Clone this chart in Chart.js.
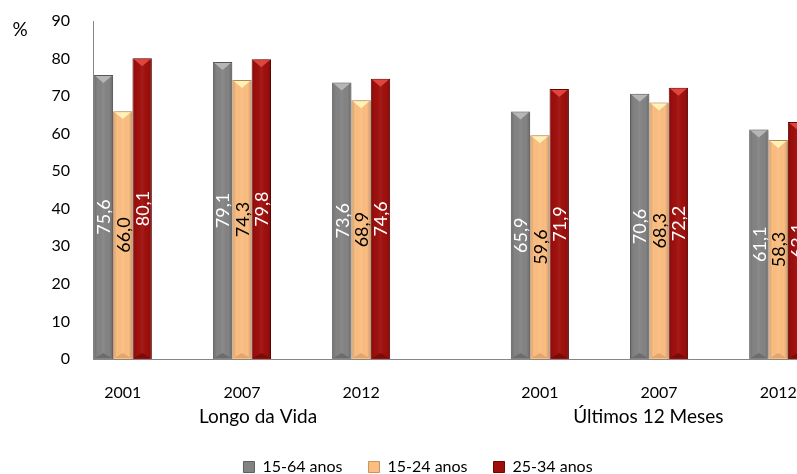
<!DOCTYPE html>
<html>
<head>
<meta charset="utf-8">
<script src="https://cdn.jsdelivr.net/npm/chart.js@4"></script>
<style>
  html, body { margin: 0; padding: 0; overflow: hidden; background: #fff; }
</style>
</head>
<body>
<canvas id="myChart" width="840" height="490"></canvas>
<script>
var anos = ['2001', '2007', '2012'];
var grupos = ['Longo da Vida', 'Últimos 12 Meses'];
var faixas = ['15-64 anos', '15-24 anos', '25-34 anos'];
// Longo da Vida (2001, 2007, 2012), depois Últimos 12 Meses (2001, 2007, 2012)
var v1564 = [75.6, 79.1, 73.6, 65.9, 70.6, 61.1];
var v1524 = [66.0, 74.3, 68.9, 59.6, 68.3, 58.3];
var v2534 = [80.1, 79.8, 74.6, 71.9, 72.2, 63.1];
var yTicks = [0, 10, 20, 30, 40, 50, 60, 70, 80, 90];

// cada ano ocupa uma posição do eixo; posições vazias separam os grupos
var slots = [0, 2, 4, 7, 9, 11];
var nSlots = 12;
var posGrupo = [2.27, 8.82];

var cores = [
  { fill: '#838383', borda: '#5f5f5f', topo: '#b6b6b6', fundo: '#6c6c6c', texto: '#ffffff' },
  { fill: '#fbbd80', borda: '#c9935f', topo: '#fff2b6', fundo: '#e2a56b', texto: '#000000' },
  { fill: '#9e0f0c', borda: '#6a0806', topo: '#e0463e', fundo: '#7c0b08', texto: '#ffffff' }
];

var labels = [];
for (var i = 0; i < nSlots; i++) labels.push('');
slots.forEach(function (s, i) { labels[s] = anos[i % anos.length]; });

function espalha(valores) {
  var d = [];
  for (var i = 0; i < nSlots; i++) d.push(null);
  slots.forEach(function (s, i) { d[s] = valores[i]; });
  return d;
}

function rotulo(v) {
  return v.toFixed(1).replace('.', ',');
}

// sombra, bisel no topo/base e rótulos verticais dentro das barras
var barras3d = {
  id: 'barras3d',
  beforeDatasetsDraw: function (chart) {
    var ctx = chart.ctx;
    ctx.save();
    ctx.shadowColor = 'rgba(0,0,0,0.22)';
    ctx.shadowBlur = 4;
    ctx.shadowOffsetX = 2;
  },
  afterDatasetsDraw: function (chart) {
    var ctx = chart.ctx;
    ctx.restore();
    chart.data.datasets.forEach(function (ds, di) {
      var c = cores[di];
      chart.getDatasetMeta(di).data.forEach(function (el, i) {
        if (ds.data[i] == null) return;
        var p = el.getProps(['x', 'y', 'base', 'width'], true);
        var l = p.x - p.width / 2, r = p.x + p.width / 2;

        var g = ctx.createLinearGradient(l, 0, r, 0);
        g.addColorStop(0, 'rgba(0,0,0,0.18)');
        g.addColorStop(0.2, 'rgba(0,0,0,0)');
        g.addColorStop(0.5, 'rgba(255,255,255,0.06)');
        g.addColorStop(0.8, 'rgba(0,0,0,0)');
        g.addColorStop(1, 'rgba(0,0,0,0.2)');
        ctx.fillStyle = g;
        ctx.fillRect(l + 1, p.y + 1, p.width - 2, p.base - p.y - 2);

        var h = Math.min(7, p.width * 0.36);
        ctx.beginPath();
        ctx.moveTo(l + 1.5, p.y + 1);
        ctx.lineTo(r - 1.5, p.y + 1);
        ctx.lineTo(p.x, p.y + 1 + h);
        ctx.closePath();
        ctx.fillStyle = c.topo;
        ctx.fill();

        ctx.beginPath();
        ctx.moveTo(l + 1.5, p.base - 1);
        ctx.lineTo(r - 1.5, p.base - 1);
        ctx.lineTo(p.x, p.base - 1 - h * 0.7);
        ctx.closePath();
        ctx.fillStyle = c.fundo;
        ctx.fill();

        ctx.save();
        ctx.translate(p.x, (p.y + p.base) / 2);
        ctx.rotate(-Math.PI / 2);
        ctx.font = '18px Lato';
        ctx.fillStyle = c.texto;
        ctx.textAlign = 'center';
        ctx.textBaseline = 'middle';
        ctx.fillText(rotulo(ds.data[i]), 0, 1);
        ctx.restore();
      });
    });
  },
  afterDraw: function (chart) {
    var ctx = chart.ctx;
    var xs = chart.scales.x;
    ctx.save();
    ctx.fillStyle = '#000';
    ctx.textAlign = 'center';
    ctx.textBaseline = 'middle';
    ctx.font = '19px Lato';
    grupos.forEach(function (g, i) {
      ctx.fillText(g, xs.getPixelForValue(posGrupo[i]), xs.top + 58);
    });
    ctx.fillText('%', 20, chart.chartArea.top + 9);
    ctx.restore();
  }
};

var ctx = document.getElementById('myChart').getContext('2d');
Chart.defaults.font.family = 'Lato, sans-serif';
Chart.defaults.color = '#000';

var chart = new Chart(ctx, {
  type: 'bar',
  data: {
    labels: labels,
    datasets: faixas.map(function (nome, k) {
      return {
        label: nome,
        data: espalha([v1564, v1524, v2534][k]),
        backgroundColor: cores[k].fill,
        borderColor: cores[k].borda,
        borderWidth: 1,
        categoryPercentage: 0.975,
        barPercentage: 1
      };
    })
  },
  options: {
    responsive: false,
    animation: false,
    layout: { padding: { left: 28, right: 32, top: 21, bottom: 5 } },
    scales: {
      x: {
        grid: { display: false, drawTicks: false },
        border: { display: true, color: '#868686', width: 1 },
        ticks: { autoSkip: false, maxRotation: 0, padding: 24, font: { size: 16 } },
        afterFit: function (s) { s.height = 74; }
      },
      y: {
        min: 0,
        max: 90,
        grid: { display: false, drawTicks: false },
        border: { display: true, color: '#868686', width: 1 },
        ticks: { padding: 23, font: { size: 16 } },
        afterBuildTicks: function (s) {
          s.ticks = yTicks.map(function (v) { return { value: v }; });
        },
        afterFit: function (s) {
          // a folga do rótulo não deve empurrar a área do gráfico
          s.width = 65;
          s.paddingTop = 0;
          s.paddingBottom = 0;
        }
      }
    },
    plugins: {
      legend: {
        position: 'bottom',
        labels: { boxWidth: 11, boxHeight: 11, padding: 26, font: { size: 16 } }
      },
      tooltip: { enabled: false }
    }
  },
  plugins: [barras3d]
});
</script>
</body>
</html>
